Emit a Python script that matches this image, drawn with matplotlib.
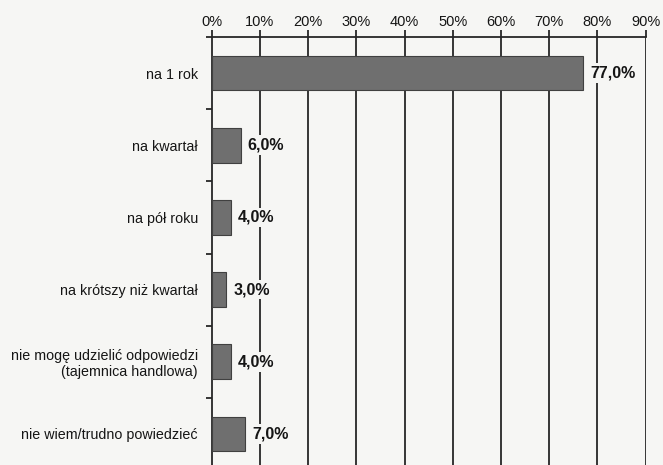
import numpy as np
import matplotlib.pyplot as plt

plt.rcParams['font.family'] = ['Liberation Sans', 'DejaVu Sans']

categories = [
    'na 1 rok',
    'na kwartał',
    'na pół roku',
    'na krótszy niż kwartał',
    'nie mogę udzielić odpowiedzi\n(tajemnica handlowa)',
    'nie wiem/trudno powiedzieć',
]
values = [77.0, 6.0, 4.0, 3.0, 4.0, 7.0]
xticks = [0, 10, 20, 30, 40, 50, 60, 70, 80, 90]

bg = '#f6f6f4'
fig = plt.figure(figsize=(6.63, 4.65), dpi=100, facecolor=bg)
ax = fig.add_axes([0.3193, -0.0108, 0.6546, 0.9312], facecolor=bg)

y = np.arange(len(categories))
ax.barh(y, values, height=0.48, color='#6f6f6f', edgecolor='#404040',
        linewidth=0.8, zorder=3)

# vertical grid through the whole plot
for t in xticks[1:]:
    ax.axvline(t, color='#262626', linewidth=1.3, zorder=1)

# value labels, box in background colour breaks the grid line behind them
for yi, v in zip(y, values):
    ax.annotate(f'{v:.1f}%'.replace('.', ','), (v, yi), xytext=(5, 0),
                textcoords='offset points', va='center', ha='left',
                fontsize=11.5, fontweight='bold', color='#151515', zorder=4,
                bbox=dict(boxstyle='square,pad=0.15', fc=bg, ec='none'))

ax.set_xlim(0, 90)
ax.set_ylim(len(categories) - 0.5, -0.5)

ax.xaxis.tick_top()
ax.set_xticks(xticks)
ax.set_xticklabels([f'{t}%' for t in xticks], fontsize=10.5, color='#151515')
ax.tick_params(axis='x', direction='out', length=5, width=1.3,
               color='#262626', pad=0.5)

# category labels sit between the minor ticks on the left axis
ax.set_yticks(y)
ax.set_yticklabels(categories, fontsize=10.3, color='#151515',
                   multialignment='right')
ax.tick_params(axis='y', which='major', length=0, pad=10)
ax.set_yticks(np.arange(-0.5, len(categories), 1.0), minor=True)
ax.tick_params(axis='y', which='minor', direction='out', length=4,
               width=1.3, color='#262626')

for side in ['right', 'bottom']:
    ax.spines[side].set_visible(False)
for side in ['top', 'left']:
    ax.spines[side].set_color('#262626')
    ax.spines[side].set_linewidth(1.3)

fig.savefig('out.png', dpi=100, facecolor=bg)
